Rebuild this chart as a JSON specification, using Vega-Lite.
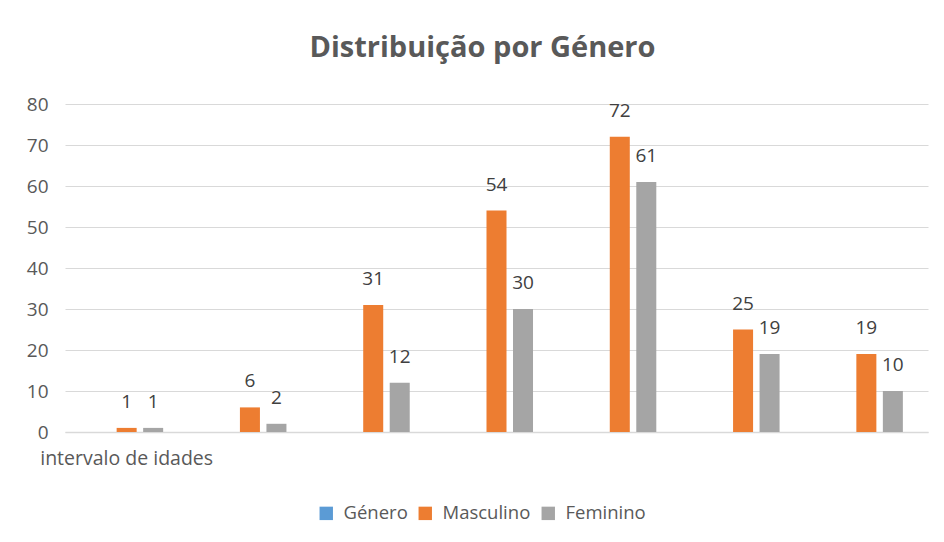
{
  "$schema": "https://vega.github.io/schema/vega-lite/v6.json",
  "width": 863,
  "height": 328,
  "autosize": {"type": "none"},
  "padding": {"left": 65, "top": 104, "right": 16, "bottom": 110},
  "background": "white",
  "config": {
    "view": {"stroke": null},
    "font": "Open Sans"
  },
  "title": {
    "text": "Distribuição por Género",
    "font": "Open Sans",
    "fontSize": 29,
    "fontWeight": "bold",
    "color": "#595959",
    "anchor": "middle",
    "frame": "group",
    "dx": -14,
    "baseline": "alphabetic",
    "offset": 9
  },
  "data": {
    "values": [
      {"grupo": "intervalo de idades", "genero": "Masculino", "n": 1},
      {"grupo": "intervalo de idades", "genero": "Feminino", "n": 1},
      {"grupo": "g2", "genero": "Masculino", "n": 6},
      {"grupo": "g2", "genero": "Feminino", "n": 2},
      {"grupo": "g3", "genero": "Masculino", "n": 31},
      {"grupo": "g3", "genero": "Feminino", "n": 12},
      {"grupo": "g4", "genero": "Masculino", "n": 54},
      {"grupo": "g4", "genero": "Feminino", "n": 30},
      {"grupo": "g5", "genero": "Masculino", "n": 72},
      {"grupo": "g5", "genero": "Feminino", "n": 61},
      {"grupo": "g6", "genero": "Masculino", "n": 25},
      {"grupo": "g6", "genero": "Feminino", "n": 19},
      {"grupo": "g7", "genero": "Masculino", "n": 19},
      {"grupo": "g7", "genero": "Feminino", "n": 10}
    ]
  },
  "encoding": {
    "x": {
      "field": "grupo",
      "type": "nominal",
      "sort": null,
      "scale": {"paddingInner": 0.355, "paddingOuter": 0.1775},
      "axis": {
        "title": null,
        "labelAngle": 0,
        "labelExpr": "datum.value == 'intervalo de idades' ? datum.value : ''",
        "labelFont": "Open Sans",
        "labelFontSize": 19.5,
        "labelColor": "#595959",
        "labelPadding": 17,
        "ticks": false,
        "domainColor": "#d9d9d9",
        "domainWidth": 1.5,
        "grid": false
      }
    },
    "xOffset": {
      "field": "genero",
      "type": "nominal",
      "scale": {
        "domain": ["Género", "Masculino", "Feminino"],
        "paddingInner": 0.245,
        "paddingOuter": 0.1225
      }
    },
    "y": {
      "field": "n",
      "type": "quantitative",
      "scale": {"domain": [0, 80], "nice": false},
      "axis": {
        "title": null,
        "values": [0, 10, 20, 30, 40, 50, 60, 70, 80],
        "domain": false,
        "ticks": false,
        "labelFont": "Open Sans",
        "labelFontSize": 19,
        "labelColor": "#595959",
        "labelPadding": 17,
        "gridColor": "#d9d9d9",
        "gridWidth": 1.2
      }
    }
  },
  "layer": [
    {
      "mark": {"type": "bar"},
      "encoding": {
        "color": {
          "field": "genero",
          "type": "nominal",
          "scale": {
            "domain": ["Género", "Masculino", "Feminino"],
            "range": ["#5b9bd5", "#ed7d31", "#a5a5a5"]
          },
          "legend": {
            "title": null,
            "orient": "none",
            "direction": "horizontal",
            "legendX": 252,
            "legendY": 400,
            "symbolType": "square",
            "symbolSize": 180,
            "symbolStrokeWidth": 0,
            "labelFont": "Open Sans",
            "labelFontSize": 18.5,
            "labelColor": "#595959",
            "labelOffset": 8,
            "columnPadding": 8
          }
        }
      }
    },
    {
      "mark": {
        "type": "text",
        "baseline": "alphabetic",
        "dy": -20,
        "font": "Open Sans",
        "fontSize": 19,
        "color": "#404040"
      },
      "encoding": {
        "text": {"field": "n", "type": "quantitative"}
      }
    }
  ]
}
